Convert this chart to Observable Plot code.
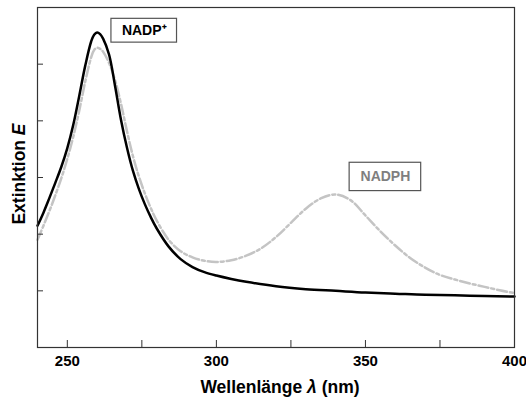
<!DOCTYPE html>
<html>
<head>
<meta charset="utf-8">
<script src="https://cdn.jsdelivr.net/npm/d3@7"></script>
<script src="https://cdn.jsdelivr.net/npm/@observablehq/plot@0.6"></script>
<style>
  body { margin: 0; background: #fff; }
  #chart { width: 526px; height: 400px; }
  svg { font-family: "Liberation Sans", Arial, sans-serif; }
</style>
</head>
<body>
<div id="chart"></div>
<script>
// Wavelength (nm) and extinction of NADP+
const wavelengthNADP = [240,242,244,246,248,250,252,254,256,258,259,260,261,262,264,266,268,270,272,274,276,278,280,284,288,292,296,300,305,310,320,330,340,350,360,370,380,390,400];
const extNADP = [2.15,2.38,2.64,2.91,3.19,3.52,3.93,4.44,4.97,5.40,5.52,5.56,5.53,5.45,5.17,4.62,4.02,3.53,3.12,2.80,2.53,2.30,2.10,1.78,1.56,1.42,1.33,1.27,1.21,1.16,1.08,1.03,1.00,0.97,0.95,0.93,0.92,0.91,0.90];

// Wavelength (nm) and extinction of NADPH
const wavelengthNADPH = [240,242,244,246,248,250,252,254,256,258,259,260,261,262,264,266,268,270,272,274,276,278,280,284,288,292,296,300,305,310,315,320,325,330,335,340,345,350,355,360,365,370,375,380,385,390,395,400];
const extNADPH = [1.90,2.15,2.41,2.69,2.99,3.33,3.72,4.18,4.69,5.12,5.25,5.29,5.27,5.22,5.02,4.72,4.30,3.82,3.38,3.02,2.72,2.46,2.24,1.90,1.70,1.59,1.53,1.51,1.54,1.62,1.75,1.95,2.20,2.45,2.63,2.70,2.60,2.33,2.05,1.80,1.58,1.41,1.28,1.20,1.13,1.07,1.01,0.96];

const xTicks = [250,275,300,325,350,375,400];
const xTickLabels = [250,300,350,400];
const yTicks = [1,2,3,4,5];

// Curve labels (anchor in data units)
const labelText = ["NADP⁺", "NADPH"];
const labelX = [275.8, 356.7];
const labelY = [5.59, 3.01];
const labelHalfW = [11, 12];     // half width of box, nm
const labelHalfH = [0.21, 0.25]; // half height of box, extinction
const labelColor = ["#000000", "#7f7f7f"];

const nadp = wavelengthNADP.map((x, i) => ({x, y: extNADP[i]}));
const nadph = wavelengthNADPH.map((x, i) => ({x, y: extNADPH[i]}));
const labels = labelText.map((t, i) => ({t, x: labelX[i], y: labelY[i], hw: labelHalfW[i], hh: labelHalfH[i], c: labelColor[i]}));

const plot = Plot.plot({
  width: 526,
  height: 400,
  marginLeft: 37,
  marginRight: 12,
  marginTop: 7,
  marginBottom: 53,
  x: {domain: [240, 400]},
  y: {domain: [0, 6]},
  style: {fontFamily: "'Liberation Sans', Arial, sans-serif", background: "#fff"},
  marks: [
    Plot.line(nadph, {x: "x", y: "y", stroke: "#c4c4c4", strokeWidth: 2.5, strokeDasharray: "10,3,3,3", curve: "catmull-rom"}),
    Plot.line(nadp, {x: "x", y: "y", stroke: "#000", strokeWidth: 2.5, curve: "catmull-rom"}),
    Plot.rect(labels, {x1: d => d.x - d.hw, x2: d => d.x + d.hw, y1: d => d.y - d.hh, y2: d => d.y + d.hh, fill: "#fff", stroke: "#555", strokeWidth: 1.2}),
    Plot.text(labels, {x: "x", y: "y", text: "t", fill: "c", fontSize: 14, fontWeight: "bold"}),
    Plot.axisX({ticks: xTicks, tickSize: -7, tickPadding: 15, tickFormat: d => xTickLabels.includes(d) ? String(d) : "", fontSize: 15, fontWeight: "bold", fill: "#000", stroke: "#333", label: null}),
    Plot.axisY({ticks: yTicks, tickSize: -6, tickFormat: () => "", label: null, stroke: "#333"}),
    Plot.frame({stroke: "#333", strokeWidth: 1.2})
  ]
});

const svg = d3.select(plot);
// y axis title
const yt = svg.append("text")
  .attr("transform", "translate(25,174) rotate(-90)")
  .attr("text-anchor", "middle")
  .attr("font-size", 17.5).attr("font-weight", "bold").attr("fill", "#000");
yt.append("tspan").text("Extinktion ");
yt.append("tspan").attr("font-style", "italic").text("E");
// x axis title
const xt = svg.append("text")
  .attr("x", 280).attr("y", 393)
  .attr("text-anchor", "middle")
  .attr("font-size", 17.5).attr("font-weight", "bold").attr("fill", "#000");
xt.append("tspan").text("Wellenlänge ");
xt.append("tspan").attr("font-style", "italic").text("λ");
xt.append("tspan").text(" (nm)");

document.getElementById("chart").appendChild(plot);
</script>
</body>
</html>
